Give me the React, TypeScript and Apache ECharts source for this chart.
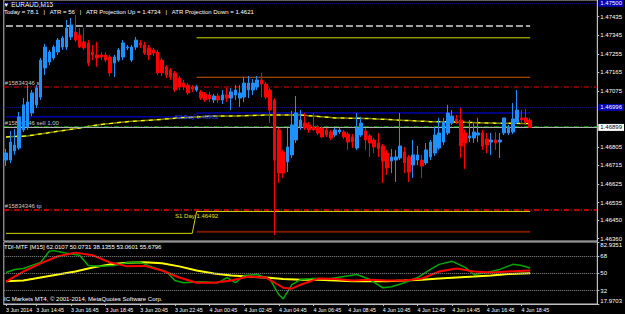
import React, { useEffect, useRef } from "react";
import * as echarts from "echarts";

// ---------- data ----------
const opens = [
  1.46741,1.46741,1.46785,1.46799,1.46887,1.46901,1.46969,1.47008,1.47046,1.47187,
  1.47216,1.47235,1.47264,1.47288,1.47288,1.47337,1.47361,1.47346,1.47313,1.47308,
  1.47264,1.47250,1.47250,1.47250,1.47240,1.47211,1.47225,1.47240,1.47284,1.47225,
  1.47288,1.47308,1.47298,1.47284,1.47274,1.47264,1.47225,1.47192,1.47177,1.47163,
  1.47138,1.47114,1.47104,1.47095,1.47080,1.47071,1.47061,1.47056,1.47032,1.47051,
  1.47032,1.47056,1.47041,1.47056,1.47041,1.47046,1.47080,1.47080,1.47095,1.47129,
  1.47109,1.47080,1.47032,1.46887,1.46780,1.46732,1.46766,1.46838,1.46901,1.46920,
  1.46911,1.46901,1.46901,1.46896,1.46887,1.46877,1.46862,1.46877,1.46877,1.46867,
  1.46853,1.46799,1.46862,1.46882,1.46858,1.46838,1.46824,1.46809,1.46775,1.46736,
  1.46741,1.46751,1.46780,1.46756,1.46717,1.46741,1.46741,1.46727,1.46756,1.46775,
  1.46799,1.46828,1.46872,1.46920,1.46940,1.46935,1.46872,1.46848,1.46848,1.46862,
  1.46872,1.46843,1.46828,1.46838,1.46828,1.46872,1.46872,1.46877,1.46925,1.46945,
  1.46945,1.46935,
];
const closes = [
  1.46775,1.46828,1.46814,1.46950,1.47008,1.47022,1.47066,1.47090,1.47225,1.47288,
  1.47264,1.47288,1.47322,1.47332,1.47380,1.47395,1.47322,1.47288,1.47284,1.47211,
  1.47250,1.47235,1.47240,1.47225,1.47163,1.47240,1.47274,1.47308,1.47288,1.47288,
  1.47322,1.47298,1.47259,1.47250,1.47259,1.47163,1.47163,1.47153,1.47143,1.47080,
  1.47095,1.47095,1.47066,1.47085,1.47095,1.47041,1.47032,1.47037,1.47051,1.47032,
  1.47056,1.47041,1.47071,1.47080,1.47066,1.47114,1.47114,1.47114,1.47129,1.47109,
  1.47046,1.46983,1.46741,1.46678,1.46678,1.46804,1.46911,1.46969,1.46935,1.46896,
  1.46887,1.46887,1.46872,1.46853,1.46862,1.46848,1.46887,1.46887,1.46853,1.46828,
  1.46828,1.46896,1.46920,1.46838,1.46824,1.46804,1.46795,1.46736,1.46703,1.46756,
  1.46756,1.46809,1.46727,1.46683,1.46766,1.46766,1.46712,1.46790,1.46828,1.46862,
  1.46872,1.46925,1.46969,1.46954,1.46925,1.46809,1.46824,1.46858,1.46877,1.46872,
  1.46809,1.46814,1.46838,1.46824,1.46838,1.46945,1.46901,1.46940,1.46983,1.46935,
  1.46925,1.46899,
];
const lows = [
  1.46712,1.46727,1.46766,1.46790,1.46877,1.46887,1.46954,1.46993,1.47032,1.47153,
  1.47201,1.47225,1.47250,1.47274,1.47274,1.47322,1.47313,1.47284,1.47274,1.47196,
  1.47225,1.47192,1.47225,1.47216,1.47148,1.47143,1.47216,1.47225,1.47274,1.47216,
  1.47274,1.47284,1.47250,1.47225,1.47245,1.47153,1.47148,1.47138,1.47129,1.47071,
  1.47080,1.47080,1.47056,1.47071,1.47071,1.47032,1.47022,1.47022,1.47017,1.47017,
  1.47012,1.47022,1.46983,1.47032,1.46998,1.47022,1.47041,1.47056,1.47080,1.47046,
  1.47037,1.46920,1.46378,1.46630,1.46654,1.46683,1.46751,1.46824,1.46887,1.46887,
  1.46872,1.46882,1.46862,1.46848,1.46853,1.46838,1.46853,1.46867,1.46843,1.46790,
  1.46799,1.46790,1.46853,1.46790,1.46756,1.46775,1.46756,1.46630,1.46669,1.46678,
  1.46635,1.46741,1.46678,1.46635,1.46654,1.46717,1.46654,1.46717,1.46741,1.46761,
  1.46790,1.46814,1.46862,1.46911,1.46916,1.46751,1.46698,1.46828,1.46824,1.46828,
  1.46790,1.46775,1.46766,1.46790,1.46751,1.46862,1.46862,1.46867,1.46916,1.46920,
  1.46911,1.46896,
];
const highs = [
  1.46795,1.46882,1.46891,1.46974,1.47041,1.47104,1.47080,1.47104,1.47235,1.47303,
  1.47274,1.47298,1.47332,1.47342,1.47419,1.47429,1.47443,1.47380,1.47380,1.47322,
  1.47298,1.47313,1.47264,1.47264,1.47250,1.47250,1.47284,1.47322,1.47298,1.47298,
  1.47337,1.47322,1.47313,1.47298,1.47284,1.47274,1.47235,1.47201,1.47187,1.47172,
  1.47148,1.47129,1.47114,1.47104,1.47104,1.47080,1.47071,1.47071,1.47061,1.47066,
  1.47080,1.47090,1.47090,1.47104,1.47104,1.47143,1.47148,1.47133,1.47148,1.47163,
  1.47119,1.47090,1.47041,1.46896,1.46790,1.46896,1.46979,1.47051,1.46983,1.46969,
  1.46925,1.46969,1.46911,1.46906,1.46896,1.46887,1.46896,1.46896,1.46887,1.46877,
  1.46867,1.46969,1.46950,1.46896,1.46867,1.46848,1.46872,1.46819,1.46790,1.46795,
  1.46790,1.46969,1.46804,1.46766,1.46838,1.46809,1.46766,1.46824,1.46838,1.46901,
  1.46945,1.46945,1.47008,1.46983,1.46959,1.46993,1.46887,1.46935,1.46925,1.46945,
  1.46887,1.46872,1.46872,1.46877,1.46872,1.46945,1.46911,1.47017,1.47080,1.46983,
  1.46988,1.46945,
];

// moving average (dashed yellow) [barIndex, price]
const maPoints = [
  [0,1.46853],[5,1.46858],[11,1.46877],[17,1.46896],[21,1.46911],[28,1.46927],[34,1.46935],
  [40,1.46945],[48,1.46954],[54,1.46955],[60,1.46959],[68,1.46959],[76,1.46945],[84,1.46942],
  [90,1.46935],[98,1.46927],[104,1.46925],[112,1.46920],[121,1.46918],
];

// daily levels [barIndex, price]
const dayBlueLevel = [[0,1.46950],[43,1.46950],[44,1.46969],[121,1.46969]];
const dayS1Level = [[0,1.46386],[43,1.46386],[44,1.46492],[121,1.46492]];
const atrUpLevel = [[44,1.47333],[121,1.47333]];
const orangeLevel = [[44,1.47142],[121,1.47142]];
const lowBrownLevel = [[44,1.46394],[121,1.46394]];
const greyDashLevel = [[0,1.47390],[121,1.47390]];

// full-width horizontal lines
const topDotLevel = 1.475;
const slLevel = 1.47096;
const midDotLevel = 1.46996;
const sellLevel = 1.46903;
const bidLevel = 1.46899;
const tpLevel = 1.465;

// TDI [barIndex, value]
const tdiGreen = [
  [0,51],[2,54.2],[4,55.2],[6,58.4],[8,61.6],[10,73.3],[11,73.9],[14,71.2],[17,69.1],[19,58.4],
  [22,57.4],[25,58.4],[28,61.1],[31,61.6],[34,56.3],[37,52.1],[39,42.5],[41,40.3],[45,41.4],
  [49,40.3],[51,45.7],[53,40.3],[55,47.8],[58,48.9],[61,43.6],[63,27.6],[64,23.3],[66,38.2],
  [68,43.6],[71,44.6],[75,44.6],[78,46.7],[81,48.9],[84,43.6],[87,35.0],[89,36.1],[92,40.3],
  [95,45.7],[98,54.2],[100,59.5],[103,62.7],[106,56.3],[108,48.9],[111,51.0],[114,54.2],
  [117,59.5],[119,58.4],[121,55.68],
];
const tdiRed = [
  [0,41.4],[4,52.0],[8,60.6],[12,68.0],[16,71.8],[20,69.1],[24,61.6],[28,57.4],[32,57.9],
  [36,53.1],[40,45.7],[44,40.3],[48,40.3],[52,42.5],[56,46.7],[60,45.7],[64,35.0],[66,34.0],
  [68,38.2],[72,44.6],[76,44.1],[80,42.5],[84,43.5],[88,42.5],[92,42.5],[96,44.6],[100,52.0],
  [104,55.2],[108,52.0],[112,51.0],[116,52.0],[121,53.06],
];
const tdiYellow = [
  [0,41.9],[4,42.5],[8,45.7],[12,48.9],[16,52.1],[20,56.3],[24,59.5],[28,61.1],[32,61.6],
  [36,60.6],[40,57.4],[44,53.1],[48,49.9],[52,47.8],[56,46.7],[60,45.7],[64,44.1],[68,43.5],
  [72,43.5],[76,42.5],[80,41.9],[84,41.9],[88,41.9],[92,42.5],[96,43.5],[100,44.6],[104,45.7],
  [108,46.7],[112,47.8],[116,49.4],[121,50.07],
];
const tdiLevels = [68, 50, 32];
const tdiMin = 17.9703;
const tdiMax = 82.9351;

// axes
const priceMin = 1.46349;
const priceMax = 1.47516;
const priceTicks = [1.47435,1.47345,1.47255,1.47165,1.47075,1.46805,1.46715,1.46625,1.46535,1.4645,1.4636];
const timeLabelIndex = [0,7,15,23,31,39,47,55,63,71,79,87,95,103,111,119];
const timeLabels = [
  "3 Jun 2014","3 Jun 14:45","3 Jun 16:45","3 Jun 18:45","3 Jun 20:45","3 Jun 22:45",
  "4 Jun 00:45","4 Jun 02:45","4 Jun 04:45","4 Jun 06:45","4 Jun 08:45","4 Jun 10:45",
  "4 Jun 12:45","4 Jun 14:45","4 Jun 16:45","4 Jun 18:45",
];
const SLOTS = 137;

const FONT = "Liberation Sans";

export default function App() {
  const ref = useRef<HTMLDivElement>(null);
  useEffect(() => {
    if (!ref.current) return;
    const chart = echarts.init(ref.current, null, { renderer: "svg" });
    const categories = Array.from({ length: SLOTS }, (_, i) => String(i));
    const candles = opens.map((o, i) => [o, closes[i], lows[i], highs[i]]);
    const txt = { color: "#fff", fontSize: 6, fontFamily: FONT };
    const boxLabel = (bg: string, fg: string, v: number) => ({
      show: true,
      position: "end",
      distance: 1,
      formatter: v.toFixed(5),
      backgroundColor: bg,
      color: fg,
      fontSize: 6,
      fontFamily: FONT,
      padding: [1, 2, 0, 2],
    });
    const orderLabel = (t: string) => ({
      show: true,
      position: "insideStartTop",
      formatter: t,
      color: "#c8c8c8",
      fontSize: 6,
      fontFamily: FONT,
      distance: 1,
    });
    const hidden = { lineStyle: { opacity: 0 } };
    const levelLine = (data: number[][], color: string, width = 1, type: any = "solid") => ({
      type: "line",
      xAxisIndex: 0,
      yAxisIndex: 0,
      data,
      showSymbol: false,
      symbol: "none",
      silent: true,
      lineStyle: { color, width, type },
      z: 3,
    });

    const option: any = {
      animation: false,
      backgroundColor: "#000",
      grid: [
        { left: 3.8, top: 0, width: 598.2, height: 241, show: true, borderColor: "#c0c0c0", borderWidth: 1, backgroundColor: "transparent" },
        { left: 3.8, top: 242, width: 598.2, height: 62, show: true, borderColor: "#c0c0c0", borderWidth: 1, backgroundColor: "transparent" },
      ],
      xAxis: [
        {
          type: "category", gridIndex: 0, data: categories, boundaryGap: true,
          axisLine: { show: false }, axisTick: { show: false }, axisLabel: { show: false }, splitLine: { show: false },
        },
        {
          type: "category", gridIndex: 1, data: categories, boundaryGap: true, position: "bottom",
          axisLine: { show: true, lineStyle: { color: "#c0c0c0" } },
          axisTick: { show: true, alignWithLabel: true, length: 2, interval: (i: number) => timeLabelIndex.includes(i), lineStyle: { color: "#c0c0c0" } },
          axisLabel: {
            ...txt, fontSize: 5.3, align: "left", margin: 3,
            interval: (i: number) => timeLabelIndex.includes(i),
            formatter: (_v: string, i: number) => timeLabels[timeLabelIndex.indexOf(i)] ?? "",
          },
          splitLine: { show: false },
        },
      ],
      yAxis: [
        {
          type: "value", gridIndex: 0, position: "right", min: priceMin, max: priceMax,
          axisLine: { show: true, lineStyle: { color: "#c0c0c0" } },
          axisTick: { show: true, length: 2, customValues: priceTicks, lineStyle: { color: "#c0c0c0" } },
          axisLabel: { ...txt, margin: 3, customValues: priceTicks, formatter: (v: number) => v.toFixed(5) },
          splitLine: { show: false },
        },
        {
          type: "value", gridIndex: 1, position: "right", min: tdiMin, max: tdiMax,
          axisLine: { show: true, lineStyle: { color: "#c0c0c0" } },
          axisTick: { show: true, length: 2, customValues: [tdiMin, ...tdiLevels, tdiMax], lineStyle: { color: "#c0c0c0" } },
          axisLabel: {
            ...txt, margin: 3, customValues: [tdiMin, ...tdiLevels, tdiMax],
            verticalAlignMinLabel: "bottom", verticalAlignMaxLabel: "top",
            formatter: (v: number) => String(v),
          },
          splitLine: { show: false },
        },
      ],
      series: [
        {
          ...levelLine(greyDashLevel, "#a0a0a0", 2, [7, 3]),
          markLine: {
            silent: true, symbol: ["none", "none"], animation: false, precision: 5,
            data: [
              { yAxis: topDotLevel, lineStyle: { color: "#1a1aa0", type: "dotted", width: 1 }, label: boxLabel("#0000b0", "#fff", topDotLevel) },
              { yAxis: slLevel, lineStyle: { color: "#a00000", type: [5, 2, 1, 2], width: 1.5 }, label: orderLabel("#15834346 sl") },
              { yAxis: midDotLevel, lineStyle: { color: "#1a1aa0", type: "dotted", width: 1 }, label: boxLabel("#0000b0", "#fff", midDotLevel) },
              { yAxis: sellLevel, lineStyle: { color: "#00b000", type: [5, 2, 1, 2], width: 1.5 }, label: orderLabel("#15834346 sell 1.00") },
              { yAxis: bidLevel, lineStyle: { color: "#b0b0b0", type: "solid", width: 1 }, label: boxLabel("#ffffff", "#000", bidLevel) },
              { yAxis: tpLevel, lineStyle: { color: "#ff0000", type: [5, 2, 1, 2], width: 1.5 }, label: orderLabel("#15834346 tp") },
              { yAxis: tpLevel, ...hidden, label: boxLabel("#0000b0", "#fff", tpLevel) },
            ],
          },
        },
        levelLine(atrUpLevel, "#d4d400", 1),
        levelLine(orangeLevel, "#d05a00", 1),
        levelLine(lowBrownLevel, "#7a1a00", 2),
        {
          ...levelLine(dayBlueLevel, "#0000ff", 1),
          markPoint: {
            symbol: "circle", symbolSize: 1, itemStyle: { color: "transparent" },
            data: [{ coord: [44, dayBlueLevel[2][1]] }],
            label: { show: true, position: "bottom", distance: 1, formatter: "S2 Day 1.46969", color: "#3050ff", fontSize: 6, fontFamily: FONT },
          },
        },
        {
          ...levelLine(dayS1Level, "#d4d400", 1),
          markPoint: {
            symbol: "circle", symbolSize: 1, itemStyle: { color: "transparent" },
            data: [{ coord: [44, dayS1Level[2][1]] }],
            label: { show: true, position: "bottom", distance: 1, formatter: "S1 Day 1.46492", color: "#e0e000", fontSize: 6, fontFamily: FONT },
          },
        },
        {
          type: "line", xAxisIndex: 0, yAxisIndex: 0, data: maPoints, showSymbol: false, symbol: "none", silent: true,
          lineStyle: { color: "#808000", width: 1.5, type: [4, 4], dashOffset: 4 }, z: 3,
        },
        {
          type: "line", xAxisIndex: 0, yAxisIndex: 0, data: maPoints, showSymbol: false, symbol: "none", silent: true,
          lineStyle: { color: "#ffff00", width: 1.5, type: [4, 4] }, z: 3,
        },
        {
          type: "candlestick", xAxisIndex: 0, yAxisIndex: 0, data: candles, barWidth: 3, z: 5,
          itemStyle: { color: "#1e90ff", color0: "#ff0000", borderColor: "#1e90ff", borderColor0: "#ff0000", borderWidth: 1 },
        },
        {
          type: "line", xAxisIndex: 1, yAxisIndex: 1, data: tdiYellow, showSymbol: false, symbol: "none", silent: true,
          lineStyle: { color: "#ffff00", width: 2 },
          markLine: {
            silent: true, symbol: ["none", "none"], precision: 4,
            data: tdiLevels.map((v) => ({ yAxis: v })),
            lineStyle: { color: "#8a8a8a", type: "dotted", width: 1 },
            label: { show: false },
          },
        },
        {
          type: "line", xAxisIndex: 1, yAxisIndex: 1, data: tdiGreen, showSymbol: false, symbol: "none", silent: true,
          lineStyle: { color: "#00a800", width: 1.5 },
        },
        {
          type: "line", xAxisIndex: 1, yAxisIndex: 1, data: tdiRed, showSymbol: false, symbol: "none", silent: true,
          lineStyle: { color: "#ff0000", width: 2 },
        },
      ],
      graphic: [
        { type: "text", left: 3, top: 1, style: { text: "▼ EURAUD,M15", fill: "#fff", fontSize: 6.5, fontFamily: FONT } },
        {
          type: "text", left: 4, top: 9,
          style: { text: "Today = 78.1   |   ATR = 56   |   ATR Projection Up = 1.4734   |   ATR Projection Down = 1.4621", fill: "#fff", fontSize: 6, fontFamily: FONT },
        },
        { type: "text", left: 4, top: 244, style: { text: "TDI-MTF [M15] 62.0107 50.0731 38.1355 53.0601 55.6796", fill: "#fff", fontSize: 6, fontFamily: FONT } },
        { type: "text", left: 4, top: 296, style: { text: "IC Markets MT4, © 2001-2014, MetaQuotes Software Corp.", fill: "#fff", fontSize: 6, fontFamily: FONT } },
      ],
    };
    chart.setOption(option);
    return () => chart.dispose();
  }, []);
  return <div ref={ref} style={{ position: "absolute", left: 0, top: 0, width: 625, height: 314, background: "#000" }} />;
}
